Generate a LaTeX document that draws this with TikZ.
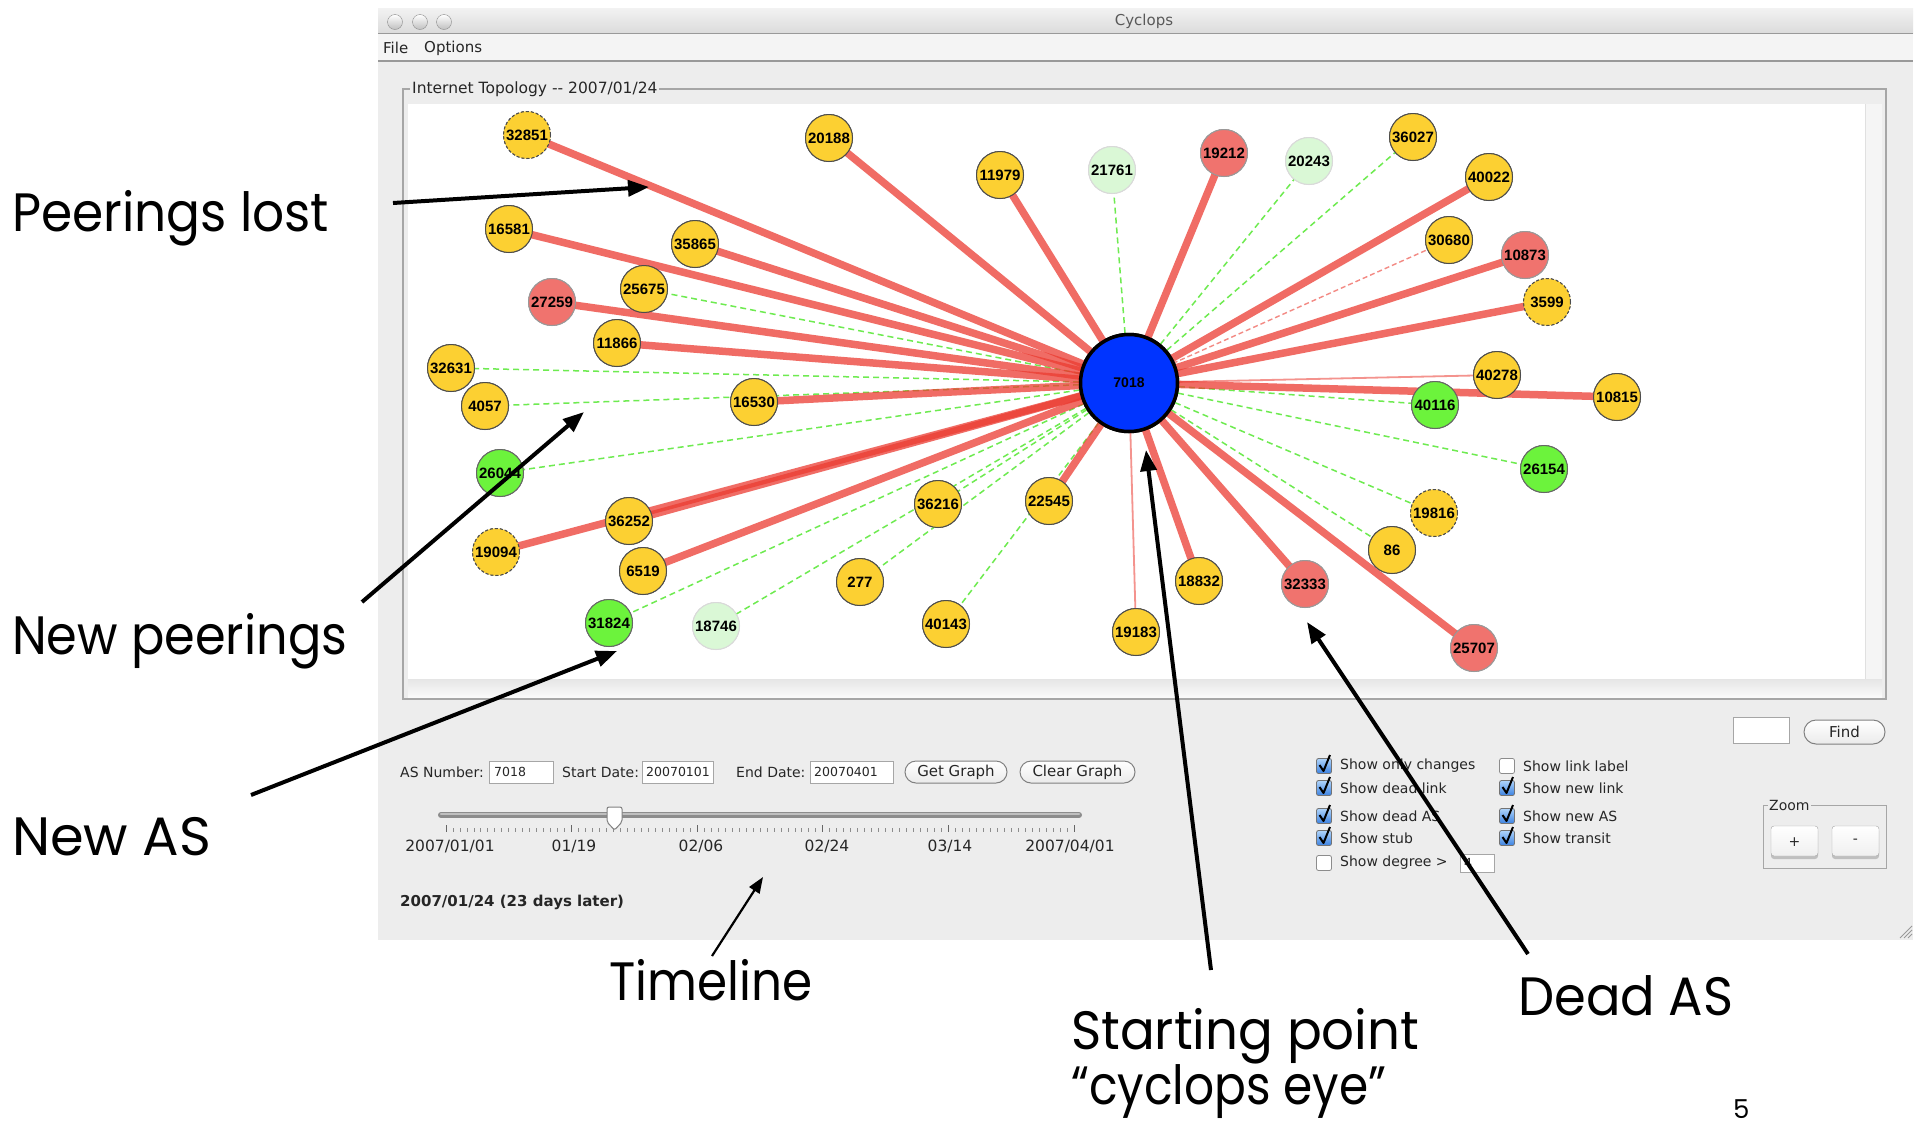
\documentclass[tikz,border=0pt]{standalone}
\usepackage{fontspec}
\usepackage{graphicx}
\setmainfont{DejaVu Sans}
\newfontfamily\nodefont{Liberation Sans}
\newfontfamily\annfont{Poppins}
\usetikzlibrary{arrows.meta}
\definecolor{asyellow}{RGB}{252,208,50}
\definecolor{asred}{RGB}{240,115,110}
\definecolor{asgreen}{RGB}{108,243,60}
\definecolor{aspale}{RGB}{218,248,214}
\definecolor{asblue}{RGB}{0,52,255}
\definecolor{linkred}{RGB}{235,60,50}
\definecolor{linkgreen}{RGB}{110,235,80}
\definecolor{winbg}{RGB}{237,237,237}
\definecolor{menubg}{RGB}{244,244,244}
\definecolor{cbtop}{RGB}{175,212,250}
\definecolor{cbbot}{RGB}{60,130,225}
\newcommand\ann[2]{\resizebox{#1}{\height}{\annfont\fontsize{54}{60}\selectfont #2}}
\newcommand\mycbon[4]{%
  \draw[cbon] (#1-7.5,#2-7.5) rectangle (#1+7.5,#2+7.5);
  \draw[line width=2pt, line join=round] (#1-4.5,#2-1) -- (#1-0.5,#2+5) -- (#1+6,#2-11);
  \node[uitext, anchor=west] (#4) at (#1+16,#2) {#3};}
\newcommand\mycboff[4]{%
  \draw[cboff] (#1-7.5,#2-7.5) rectangle (#1+7.5,#2+7.5);
  \node[uitext, anchor=west] (#4) at (#1+16,#2) {#3};}
\begin{document}
\begin{tikzpicture}[x=1pt,y=-1pt,
  asnode/.style={circle, minimum size=47pt, inner sep=0pt, draw=black!70, line width=1pt,
    font=\nodefont\bfseries\fontsize{15}{15}\selectfont},
  yel/.style={asnode, fill=asyellow},
  yeldash/.style={yel, dash pattern=on 3pt off 2pt},
  dead/.style={asnode, fill=asred, draw=black!40},
  newas/.style={asnode, fill=asgreen, draw=black!60},
  pale/.style={asnode, fill=aspale, draw=black!15},
  eye/.style={circle, minimum size=97pt, inner sep=0pt, fill=asblue, draw=black, line width=3.5pt,
    font=\nodefont\bfseries\fontsize{14}{14}\selectfont},
  deadlink/.style={line width=7.5pt, draw=linkred, draw opacity=0.75},
  thinred/.style={line width=1.8pt, draw=linkred, draw opacity=0.55},
  dashred/.style={line width=1.4pt, draw=linkred, draw opacity=0.6, dash pattern=on 5pt off 3pt},
  newlink/.style={line width=1.5pt, draw=linkgreen, dash pattern=on 6pt off 4pt},
  uitext/.style={inner sep=0pt, text=black!85, font=\fontsize{14}{16}\selectfont},
  fieldtext/.style={uitext, font=\fontsize{12.5}{14}\selectfont},
  field/.style={fill=white, draw=black!35, line width=0.8pt},
  pill/.style={top color=white, bottom color=black!8, draw=black!50, line width=1pt, rounded corners=11pt},
  cbon/.style={top color=cbtop, bottom color=cbbot, draw=black!55, line width=0.8pt, rounded corners=2pt},
  cboff/.style={fill=white, draw=black!45, line width=0.8pt, rounded corners=2pt},
  annot/.style={line width=4pt, -{Triangle[length=21pt,width=16pt]}},
  annotthin/.style={line width=2.2pt, -{Triangle[length=16pt,width=12pt]}},
  anntext/.style={anchor=base west, inner sep=0pt}
]
\useasboundingbox (0,0) rectangle (1923,1128);
\clip (0,0) rectangle (1923,1128);
\fill[white] (0,0) rectangle (1923,1128);
% ---------- window ----------
\fill[winbg] (378,8) rectangle (1913,940);
\shade[top color=black!5, bottom color=black!14] (378,8) rectangle (1913,33);
\draw[black!40, line width=1pt] (378,33) -- (1913,33);
\fill[menubg] (378,34) rectangle (1913,60);
\draw[black!40, line width=1.5pt] (378,61) -- (1913,61);
\foreach \cx/\nm in {395/b1,420/b2,444/b3}
  \node[circle, minimum size=15pt, inner sep=0pt, top color=white, bottom color=black!25, draw=black!45] (\nm) at (\cx,22) {};
\node[uitext, text=black!65, font=\fontsize{15}{16}\selectfont] (title) at (1144,21) {Cyclops};
\node[uitext, anchor=west, font=\fontsize{15}{16}\selectfont] (mfile) at (383,48) {File};
\node[uitext, anchor=west, font=\fontsize{15}{16}\selectfont] (mopt) at (424,48) {Options};
% ---------- topology frame ----------
\draw[black!35, line width=1.2pt] (403,89) rectangle (1886,699);
\fill[white] (408,104) rectangle (1865,679);
\fill[black!4] (1865,104) rectangle (1882,679);
\draw[black!12, line width=1pt] (1865,104) -- (1865,679);
\shade[top color=black!10, bottom color=black!2] (408,679) rectangle (1882,697);
\node[uitext, anchor=west, fill=winbg, inner xsep=2pt, inner ysep=1pt, font=\fontsize{15.5}{17}\selectfont] (ftitle) at (410,89) {Internet Topology -{}- 2007/01/24};
% ---------- nodes (positions) ----------
\node[eye] (c) at (1129,383) {7018};
\node[yeldash] (n32851) at (527,135) {32851};
\node[yel] (n20188) at (829,138) {20188};
\node[yel] (n11979) at (1000,175) {11979};
\node[pale] (n21761) at (1112,170) {21761};
\node[dead] (n19212) at (1224,153) {19212};
\node[pale] (n20243) at (1309,161) {20243};
\node[yel] (n36027) at (1413,137) {36027};
\node[yel] (n40022) at (1489,177) {40022};
\node[yel] (n30680) at (1449,240) {30680};
\node[dead] (n10873) at (1525,255) {10873};
\node[yeldash] (n3599) at (1547,302) {3599};
\node[yel] (n16581) at (509,229) {16581};
\node[yel] (n35865) at (695,244) {35865};
\node[yel] (n25675) at (644,289) {25675};
\node[dead] (n27259) at (552,302) {27259};
\node[yel] (n11866) at (617,343) {11866};
\node[yel] (n32631) at (451,368) {32631};
\node[yel] (n4057) at (485,406) {4057};
\node[yel] (n16530) at (754,402) {16530};
\node[yel] (n40278) at (1497,375) {40278};
\node[yel] (n10815) at (1617,397) {10815};
\node[newas] (n40116) at (1435,405) {40116};
\node[newas] (n26044) at (500,473) {26044};
\node[yel] (n36252) at (629,521) {36252};
\node[yeldash] (n19094) at (496,552) {19094};
\node[yel] (n6519) at (643,571) {6519};
\node[newas] (n31824) at (609,623) {31824};
\node[pale] (n18746) at (716,626) {18746};
\node[yel] (n277) at (860,582) {277};
\node[yel] (n36216) at (938,504) {36216};
\node[yel] (n22545) at (1049,501) {22545};
\node[yel] (n40143) at (946,624) {40143};
\node[yel] (n19183) at (1136,632) {19183};
\node[newas] (n26154) at (1544,469) {26154};
\node[yeldash] (n19816) at (1434,513) {19816};
\node[yel] (n86) at (1392,550) {86};
\node[yel] (n18832) at (1199,581) {18832};
\node[dead] (n32333) at (1305,584) {32333};
\node[dead] (n25707) at (1474,648) {25707};
% ---------- links ----------
\foreach \t in {n21761,n20243,n36027,n25675,n32631,n4057,n26044,n31824,n18746,n277,n36216,n40143,n40116,n26154,n19816,n86}
  \draw[newlink] (c.center) -- (\t.center);
\draw[dashred] (c.center) -- (n30680.center);
\draw[thinred] (c.center) -- (n40278.center);
\draw[thinred] (c.center) -- (n19183.center);
\foreach \t in {n32851,n20188,n11979,n19212,n40022,n10873,n3599,n16581,n35865,n27259,n11866,n16530,n10815,n36252,n19094,n6519,n22545,n18832,n32333,n25707}
  \draw[deadlink] (c.center) -- (\t.center);
% nodes on top of the links
\node[eye] (c2) at (c) {7018};
\foreach \nm/\st/\lab in {n32851/yeldash/32851,n20188/yel/20188,n11979/yel/11979,n21761/pale/21761,n19212/dead/19212,n20243/pale/20243,n36027/yel/36027,n40022/yel/40022,n30680/yel/30680,n10873/dead/10873,n3599/yeldash/3599,n16581/yel/16581,n35865/yel/35865,n25675/yel/25675,n27259/dead/27259,n11866/yel/11866,n32631/yel/32631,n4057/yel/4057,n16530/yel/16530,n40278/yel/40278,n10815/yel/10815,n40116/newas/40116,n26044/newas/26044,n36252/yel/36252,n19094/yeldash/19094,n6519/yel/6519,n31824/newas/31824,n18746/pale/18746,n277/yel/277,n36216/yel/36216,n22545/yel/22545,n40143/yel/40143,n19183/yel/19183,n26154/newas/26154,n19816/yeldash/19816,n86/yel/86,n18832/yel/18832,n32333/dead/32333,n25707/dead/25707}
  \node[\st] (\nm-top) at (\nm) {\lab};
% ---------- controls ----------
\node[uitext, anchor=west] (lasn) at (400,772) {AS Number:};
\draw[field] (489,761) rectangle (553,783);
\node[fieldtext, anchor=west] (vasn) at (494,772) {7018};
\node[uitext, anchor=west] (lsd) at (562,772) {Start Date:};
\draw[field] (642,761) rectangle (713,783);
\node[fieldtext, anchor=west] (vsd) at (646,772) {20070101};
\node[uitext, anchor=west] (led) at (736,772) {End Date:};
\draw[field] (810,761) rectangle (893,783);
\node[fieldtext, anchor=west] (ved) at (814,772) {20070401};
\draw[pill] (905,761) rectangle (1007,783);
\node[uitext, font=\fontsize{15}{16}\selectfont] (bget) at (956,772) {Get Graph};
\draw[pill] (1020,761) rectangle (1135,783);
\node[uitext, font=\fontsize{15}{16}\selectfont] (bclr) at (1077.5,772) {Clear Graph};
% slider
\draw[line width=6pt, line cap=round, black!45] (441,815) -- (1079,815);
\draw[line width=2.5pt, line cap=round, black!25] (441,814) -- (1079,814);
\foreach \i in {0,...,90}
  \draw[black!45, line width=0.8pt] ({446+\i*6.978},828) -- ({446+\i*6.978},832);
\foreach \i in {0,18,...,90}
  \draw[black!60, line width=0.9pt] ({446+\i*6.978},825) -- ({446+\i*6.978},832);
\draw[fill=white, draw=black!50, line width=1pt, rounded corners=2pt] (607,807) -- (622,807) -- (622,822) -- (614.5,830) -- (607,822) -- cycle;
\foreach \x/\lab/\nm in {450/2007\slash 01\slash 01/t1,574/01\slash 19/t2,701/02\slash 06/t3,827/02\slash 24/t4,950/03\slash 14/t5,1070/2007\slash 04\slash 01/t6}
  \node[uitext, font=\fontsize{15.5}{16}\selectfont] (\nm) at (\x,846) {\lab};
\node[uitext, anchor=west, font=\bfseries\fontsize{15}{16}\selectfont] (cur) at (400,902) {2007/01/24 (23 days later)};
% right side
\draw[field] (1733,717) rectangle (1789,743);
\draw[pill, rounded corners=12pt] (1804,720) rectangle (1885,744);
\node[uitext, font=\fontsize{15}{16}\selectfont] (bfind) at (1844.5,732) {Find};
\mycbon{1324}{766}{Show only changes}{c1}
\mycbon{1324}{788}{Show dead link}{c2t}
\mycbon{1324}{816}{Show dead AS}{c3}
\mycbon{1324}{838}{Show stub}{c4}
\mycboff{1324}{863}{Show degree \textgreater}{c5}
\draw[field] (1460,854) rectangle (1494,872);
\node[fieldtext, anchor=west] (vdeg) at (1464,863) {4};
\mycboff{1507}{766}{Show link label}{d1}
\mycbon{1507}{788}{Show new link}{d2}
\mycbon{1507}{816}{Show new AS}{d3}
\mycbon{1507}{838}{Show transit}{d4}
\draw[black!35, line width=1pt] (1763,805) rectangle (1886,868);
\node[uitext, anchor=west, fill=winbg, inner xsep=1pt] (zoomlab) at (1768,805) {Zoom};
\draw[fill=black!25, draw=none, rounded corners=3pt] (1771,828) rectangle (1818,859);
\draw[top color=white, bottom color=black!6, draw=black!35, rounded corners=3pt] (1771,826) rectangle (1818,856);
\node[uitext] (zplus) at (1794.5,842) {+};
\draw[fill=black!25, draw=none, rounded corners=3pt] (1832,828) rectangle (1879,859);
\draw[top color=white, bottom color=black!6, draw=black!35, rounded corners=3pt] (1832,826) rectangle (1879,856);
\node[uitext] (zminus) at (1855.5,841) {-};
\foreach \d in {4,8,12}
  \draw[black!40, line width=0.8pt] (1912-\d,938) -- (1912,938-\d);
% ---------- annotations ----------
\node[anntext] (tpeer) at (12,231) {\ann{317pt}{Peerings lost}};
\node[anntext] (tnewp) at (12,654) {\ann{335pt}{New peerings}};
\node[anntext] (tnewas) at (12,855) {\ann{199pt}{New AS}};
\node[anntext] (ttime) at (609,1000) {\ann{203pt}{Timeline}};
\node[anntext] (tstart) at (1071,1049) {\ann{348pt}{Starting point}};
\node[anntext] (teye) at (1071,1104) {\ann{315pt}{“cyclops eye”}};
\node[anntext] (tdead) at (1518,1015) {\ann{215pt}{Dead AS}};
\node[anntext] (tpage) at (1733,1118) {\annfont\fontsize{26}{28}\selectfont 5};
\coordinate (a1s) at (393,203); \coordinate (a1e) at (649,187);
\coordinate (a2s) at (362,602); \coordinate (a2e) at (584,412);
\coordinate (a3s) at (251,795); \coordinate (a3e) at (617,651);
\coordinate (a4s) at (712,956); \coordinate (a4e) at (763,877);
\coordinate (a5s) at (1211,970); \coordinate (a5e) at (1146,450);
\coordinate (a6s) at (1528,954); \coordinate (a6e) at (1307,622);
\draw[annot] (a1s) -- (a1e);
\draw[annot] (a2s) -- (a2e);
\draw[annot] (a3s) -- (a3e);
\draw[annotthin] (a4s) -- (a4e);
\draw[annot] (a5s) -- (a5e);
\draw[annot] (a6s) -- (a6e);
\end{tikzpicture}
\end{document}
